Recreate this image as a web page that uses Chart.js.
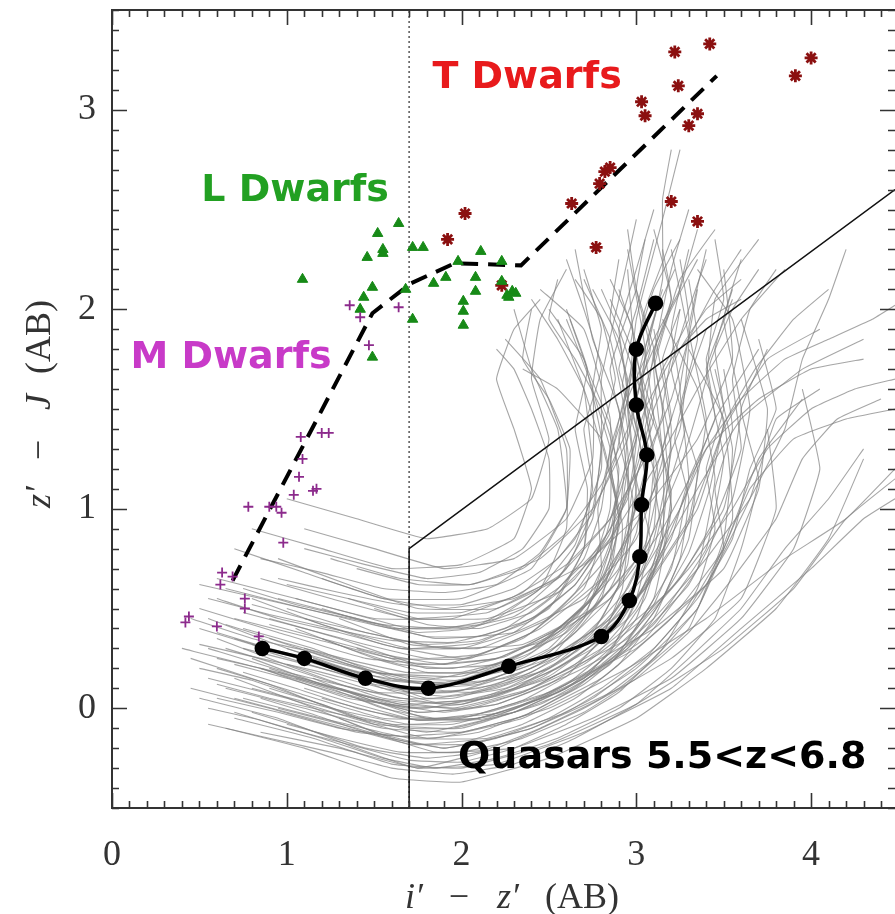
<!DOCTYPE html>
<html>
<head>
<meta charset="utf-8">
<script src="https://cdn.jsdelivr.net/npm/chart.js@4.4.0/dist/chart.umd.min.js"></script>
<style>
  body { margin: 0; background: #fff; }
</style>
</head>
<body>
<canvas id="ccd" width="895" height="914"></canvas>
<script>
const xTickValues = [0, 1, 2, 3, 4];
const yTickValues = [0, 1, 2, 3];

// mean colour track of the quasars
const meanTrackX = [0.86, 1.10, 1.45, 1.81, 2.27, 2.80, 2.96, 3.02, 3.03, 3.06, 3.00, 3.00, 3.11];
const meanTrackY = [0.30, 0.25, 0.15, 0.10, 0.21, 0.36, 0.54, 0.76, 1.02, 1.27, 1.52, 1.80, 2.03];

// dashed M-L-T sequence
const dwarfSeqX = [0.69, 1.49, 1.71, 1.96, 2.34, 3.46];
const dwarfSeqY = [0.64, 1.98, 2.13, 2.23, 2.22, 3.17];

// selection cut
const cutX = [1.7, 1.7, 4.48];
const cutY = [-0.5, 0.8, 2.6];
const dotX = [1.7, 1.7];
const dotY = [-0.5, 3.5];

const mDwarfX = [1.36, 1.42, 1.64, 1.47, 1.08, 1.20, 1.24, 1.09, 1.07, 1.04, 1.15, 1.17, 0.78, 0.90, 0.94, 0.97, 0.98, 0.63, 0.69, 0.62, 0.76, 0.76, 0.44, 0.42, 0.60, 0.84];
const mDwarfY = [2.02, 1.96, 2.01, 1.82, 1.36, 1.38, 1.38, 1.25, 1.16, 1.07, 1.09, 1.10, 1.01, 1.01, 1.01, 0.98, 0.83, 0.68, 0.66, 0.62, 0.55, 0.50, 0.46, 0.43, 0.41, 0.36];

const lDwarfX = [1.09, 1.64, 1.52, 1.55, 1.55, 1.46, 1.49, 1.44, 1.42, 1.49, 1.72, 1.72, 1.78, 1.68, 1.98, 1.91, 1.84, 2.11, 2.08, 2.08, 2.01, 2.01, 2.01, 2.23, 2.23, 2.26, 2.29, 2.31, 2.27];
const lDwarfY = [2.15, 2.43, 2.38, 2.30, 2.28, 2.26, 2.11, 2.06, 2.00, 1.76, 1.95, 2.31, 2.31, 2.10, 2.24, 2.16, 2.13, 2.29, 2.16, 2.09, 2.04, 1.99, 1.92, 2.24, 2.14, 2.07, 2.09, 2.08, 2.06];

const tDwarfX = [2.02, 1.92, 2.23, 2.77, 2.63, 2.79, 2.82, 2.85, 3.03, 3.05, 3.22, 3.24, 3.30, 3.35, 3.42, 3.20, 3.35, 3.91, 4.00];
const tDwarfY = [2.48, 2.35, 2.12, 2.31, 2.53, 2.63, 2.69, 2.71, 3.04, 2.97, 3.29, 3.12, 2.92, 2.98, 3.33, 2.54, 2.44, 3.17, 3.26];

// individual quasar tracks, [i-z, z-J] pairs
const quasarTracks = [
  [[0.45,0.25],[0.9,0.12],[1.4,-0.05],[1.8,-0.12],[2.3,-0.02],[2.7,0.15],[3.0,0.45],[3.15,0.9],[3.2,1.4],[3.1,1.9]],
  [[0.55,0.45],[1.0,0.3],[1.5,0.18],[2.0,0.16],[2.4,0.3],[2.75,0.55],[2.9,0.95],[2.95,1.4],[2.85,1.85],[2.7,2.15]],
  [[0.7,0.15],[1.1,0.02],[1.5,-0.12],[1.9,-0.2],[2.4,-0.1],[2.9,0.1],[3.3,0.4],[3.5,0.85],[3.55,1.3],[3.45,1.7]],
  [[0.8,0.55],[1.2,0.42],[1.7,0.3],[2.1,0.33],[2.5,0.5],[2.7,0.8],[2.75,1.2],[2.7,1.6],[2.55,1.95]],
  [[0.6,0.35],[1.05,0.2],[1.55,0.05],[2.0,0.02],[2.5,0.15],[2.95,0.35],[3.2,0.7],[3.3,1.15],[3.25,1.6],[3.35,2.1]],
  [[0.95,0.75],[1.35,0.62],[1.75,0.5],[2.2,0.5],[2.55,0.65],[2.75,0.95],[2.8,1.35],[2.7,1.75],[2.5,2.0]],
  [[0.5,0.05],[0.95,-0.05],[1.4,-0.2],[1.75,-0.3],[2.2,-0.2],[2.7,0.0],[3.2,0.25],[3.6,0.55],[3.8,1.0],[3.75,1.4]],
  [[0.75,0.4],[1.15,0.3],[1.6,0.15],[2.05,0.12],[2.5,0.25],[2.85,0.45],[3.05,0.8],[3.1,1.25],[3.0,1.7],[2.95,2.2]],
  [[1.0,0.3],[1.4,0.18],[1.8,0.05],[2.25,0.1],[2.65,0.28],[3.0,0.55],[3.3,0.95],[3.4,1.45],[3.3,1.9],[3.4,2.3]],
  [[0.65,0.6],[1.1,0.5],[1.6,0.4],[2.1,0.42],[2.45,0.6],[2.6,0.9],[2.6,1.3],[2.45,1.65],[2.25,1.85]],
  [[0.85,0.2],[1.3,0.08],[1.75,-0.02],[2.2,0.02],[2.65,0.18],[3.1,0.4],[3.5,0.7],[3.7,1.1],[3.75,1.5],[3.6,1.95]],
  [[1.2,0.65],[1.55,0.55],[1.9,0.5],[2.3,0.55],[2.7,0.72],[3.05,1.0],[3.35,1.35],[3.55,1.75],[3.5,2.2]],
  [[0.55,0.15],[1.0,0.05],[1.5,-0.08],[1.95,-0.1],[2.45,0.02],[2.85,0.22],[3.1,0.55],[3.2,1.0],[3.15,1.5],[3.25,2.0]],
  [[0.9,0.45],[1.3,0.35],[1.75,0.22],[2.2,0.25],[2.6,0.42],[2.9,0.7],[3.0,1.1],[2.95,1.55],[3.05,2.0],[3.2,2.35]],
  [[0.4,0.3],[0.85,0.2],[1.35,0.05],[1.8,0.0],[2.3,0.1],[2.75,0.3],[3.05,0.6],[3.25,1.0],[3.45,1.45],[3.7,1.8]],
  [[1.1,0.9],[1.5,0.8],[1.9,0.7],[2.3,0.75],[2.6,0.95],[2.75,1.25],[2.75,1.6],[2.6,1.95]],
  [[0.7,-0.05],[1.15,-0.15],[1.6,-0.28],[2.0,-0.3],[2.5,-0.18],[3.0,0.02],[3.5,0.3],[3.9,0.6],[4.2,0.95],[4.48,1.15]],
  [[0.8,0.25],[1.2,0.12],[1.65,0.02],[2.1,0.05],[2.55,0.2],[2.95,0.45],[3.15,0.85],[3.15,1.3],[3.0,1.75],[2.85,2.05]],
  [[0.95,0.55],[1.4,0.45],[1.85,0.35],[2.3,0.38],[2.7,0.55],[3.0,0.85],[3.15,1.25],[3.1,1.7],[3.25,2.15],[3.45,2.4]],
  [[0.6,0.2],[1.05,0.08],[1.55,-0.05],[2.0,-0.05],[2.5,0.08],[3.0,0.3],[3.4,0.62],[3.65,1.05],[3.8,1.45],[4.05,1.6]],
  [[1.3,0.45],[1.7,0.32],[2.1,0.3],[2.5,0.45],[2.8,0.72],[2.95,1.1],[2.9,1.5],[2.75,1.85],[2.65,2.3]],
  [[0.75,0.05],[1.2,-0.05],[1.7,-0.15],[2.15,-0.15],[2.6,-0.02],[3.0,0.2],[3.35,0.5],[3.55,0.95],[3.5,1.45],[3.3,1.8]],
  [[0.5,0.5],[0.95,0.38],[1.45,0.25],[1.9,0.22],[2.35,0.35],[2.7,0.6],[2.85,1.0],[2.85,1.45],[2.7,1.9],[2.45,2.1]],
  [[1.05,0.15],[1.5,0.05],[1.95,0.0],[2.4,0.1],[2.8,0.3],[3.2,0.6],[3.5,1.0],[3.6,1.5],[3.5,1.95],[3.6,2.25]],
  [[0.85,0.65],[1.25,0.55],[1.7,0.45],[2.15,0.48],[2.55,0.66],[2.85,0.95],[3.0,1.35],[3.05,1.8],[2.95,2.3]],
  [[0.65,-0.1],[1.1,-0.2],[1.6,-0.35],[2.0,-0.37],[2.5,-0.25],[3.0,-0.05],[3.4,0.2],[3.8,0.5],[4.1,0.85],[4.3,1.25]],
  [[0.9,0.35],[1.35,0.22],[1.8,0.12],[2.25,0.15],[2.7,0.32],[3.05,0.6],[3.35,1.0],[3.5,1.4],[3.75,1.75],[4.05,1.9]],
  [[0.7,0.8],[1.1,0.68],[1.55,0.55],[2.0,0.55],[2.4,0.7],[2.6,1.0],[2.55,1.4],[2.4,1.7],[2.3,2.0]],
  [[1.15,0.25],[1.6,0.12],[2.05,0.08],[2.5,0.2],[2.9,0.45],[3.1,0.85],[3.2,1.3],[3.1,1.75],[3.2,2.2],[3.3,2.5]],
  [[0.45,0.1],[0.9,0.0],[1.4,-0.12],[1.85,-0.15],[2.35,-0.05],[2.8,0.15],[3.2,0.45],[3.5,0.8],[3.7,1.25],[3.95,1.55]],
  [[1.0,0.5],[1.45,0.38],[1.9,0.3],[2.35,0.32],[2.75,0.5],[3.05,0.8],[3.25,1.2],[3.4,1.65],[3.45,2.05],[3.7,2.35]],
  [[0.8,0.1],[1.25,0.0],[1.7,-0.08],[2.15,-0.05],[2.6,0.1],[3.05,0.35],[3.35,0.7],[3.45,1.15],[3.35,1.6],[3.15,1.95]],
  [[1.25,0.75],[1.65,0.65],[2.05,0.62],[2.45,0.75],[2.75,1.0],[2.95,1.35],[3.05,1.75],[3.15,2.15],[3.15,2.55],[3.2,2.8]],
  [[0.55,0.3],[1.0,0.18],[1.5,0.08],[1.95,0.08],[2.4,0.2],[2.8,0.42],[3.1,0.72],[3.35,1.1],[3.6,1.45],[3.95,1.7],[4.3,1.85]],
  [[1.4,0.3],[1.8,0.2],[2.2,0.22],[2.6,0.38],[2.9,0.65],[3.0,1.05],[2.95,1.5],[3.0,1.95],[3.15,2.45],[3.25,2.8]],
  [[0.95,0.0],[1.4,-0.1],[1.85,-0.22],[2.3,-0.2],[2.75,-0.05],[3.2,0.15],[3.6,0.45],[3.9,0.8],[4.05,1.2],[3.95,1.6]],
  [[0.6,0.65],[1.05,0.55],[1.5,0.45],[1.95,0.45],[2.35,0.58],[2.65,0.85],[2.8,1.2],[2.8,1.65],[2.9,2.05],[3.0,2.45]],
  [[1.1,0.45],[1.55,0.32],[2.0,0.25],[2.45,0.33],[2.85,0.55],[3.15,0.9],[3.4,1.3],[3.7,1.55],[4.0,1.7],[4.3,1.75]],
  [[0.75,0.3],[1.2,0.2],[1.65,0.1],[2.1,0.12],[2.5,0.28],[2.8,0.55],[2.9,0.95],[2.8,1.35],[2.55,1.6],[2.35,1.7]],
  [[0.85,-0.12],[1.3,-0.2],[1.75,-0.3],[2.2,-0.28],[2.7,-0.12],[3.2,0.1],[3.6,0.4],[4.0,0.7],[4.3,0.95],[4.48,1.05]],
  [[1.2,0.05],[1.65,-0.05],[2.1,-0.05],[2.55,0.08],[2.95,0.3],[3.3,0.62],[3.55,1.05],[3.65,1.5],[3.55,1.95],[3.35,2.2]],
  [[0.5,0.4],[0.95,0.28],[1.45,0.15],[1.9,0.12],[2.35,0.25],[2.75,0.5],[2.95,0.85],[2.95,1.3],[2.85,1.7],[3.0,2.1]],
  [[1.35,0.55],[1.75,0.45],[2.15,0.45],[2.55,0.58],[2.85,0.85],[3.1,1.2],[3.35,1.6],[3.6,1.95],[3.85,2.2]],
  [[0.7,0.45],[1.15,0.35],[1.6,0.25],[2.05,0.25],[2.45,0.4],[2.8,0.65],[3.05,1.0],[3.25,1.4],[3.3,1.85],[3.2,2.3]],
  [[0.9,0.2],[1.35,0.08],[1.8,-0.05],[2.25,-0.02],[2.7,0.15],[3.1,0.42],[3.4,0.8],[3.5,1.25],[3.4,1.7],[3.55,2.05]],
  [[0.8,0.9],[1.2,0.8],[1.6,0.7],[2.0,0.72],[2.3,0.85],[2.4,1.1],[2.3,1.4],[2.2,1.65],[2.3,1.9],[2.45,2.05]],
  [[1.0,1.05],[1.4,0.95],[1.8,0.85],[2.15,0.9],[2.4,1.05],[2.5,1.35],[2.4,1.65],[2.45,1.95],[2.6,2.2]],
  [[0.65,0.1],[1.1,0.0],[1.55,-0.1],[2.0,-0.12],[2.5,0.0],[2.95,0.2],[3.4,0.45],[3.85,0.75],[4.2,0.95],[4.48,1.2]],
  [[0.5,0.2],[0.8,0.14],[1.1,0.05],[1.4,-0.04],[1.7,-0.1],[2.0,-0.1],[2.3,-0.02],[2.6,0.1],[2.85,0.28],[3.0,0.55],[3.08,0.85],[3.0,1.15],[3.1,1.45],[3.05,1.8],[3.15,2.1]],
  [[0.7,0.35],[1.0,0.27],[1.3,0.2],[1.6,0.1],[1.9,0.08],[2.2,0.12],[2.5,0.25],[2.7,0.45],[2.8,0.7],[2.78,1.0],[2.85,1.3],[2.75,1.6],[2.8,1.9],[2.7,2.2]],
  [[0.9,0.1],[1.2,0.02],[1.5,-0.08],[1.8,-0.15],[2.1,-0.12],[2.4,-0.02],[2.7,0.12],[2.95,0.3],[3.15,0.55],[3.3,0.85],[3.35,1.2],[3.25,1.5],[3.35,1.85],[3.3,2.15]],
  [[0.6,0.55],[0.95,0.45],[1.3,0.38],[1.65,0.3],[2.0,0.3],[2.3,0.38],[2.55,0.55],[2.7,0.8],[2.72,1.1],[2.65,1.4],[2.72,1.7],[2.6,2.0]],
  [[1.05,0.4],[1.35,0.3],[1.65,0.22],[1.95,0.2],[2.25,0.26],[2.55,0.4],[2.8,0.6],[2.95,0.88],[3.05,1.15],[3.0,1.45],[3.1,1.75],[3.2,2.05],[3.1,2.4]],
  [[0.55,0.0],[0.85,-0.06],[1.2,-0.15],[1.55,-0.25],[1.85,-0.3],[2.2,-0.25],[2.55,-0.15],[2.9,0.0],[3.2,0.2],[3.45,0.45],[3.6,0.8],[3.7,1.15],[3.6,1.5],[3.75,1.8]],
  [[0.75,0.6],[1.05,0.52],[1.4,0.45],[1.75,0.38],[2.05,0.4],[2.35,0.5],[2.6,0.7],[2.75,1.0],[2.8,1.3],[2.7,1.6],[2.55,1.85],[2.4,2.05]],
  [[1.15,0.15],[1.45,0.05],[1.75,-0.02],[2.05,0.0],[2.35,0.08],[2.65,0.22],[2.9,0.42],[3.1,0.7],[3.2,1.0],[3.15,1.3],[3.25,1.6],[3.2,1.9],[3.3,2.3]],
  [[0.65,0.3],[0.95,0.22],[1.3,0.12],[1.65,0.05],[1.95,0.05],[2.25,0.12],[2.55,0.25],[2.8,0.45],[2.95,0.72],[2.98,1.05],[2.9,1.35],[2.95,1.65],[2.85,1.95],[2.9,2.25]],
  [[0.85,0.75],[1.2,0.68],[1.55,0.6],[1.9,0.58],[2.2,0.62],[2.45,0.78],[2.6,1.0],[2.62,1.3],[2.5,1.55],[2.35,1.75],[2.4,2.0]],
  [[1.3,-0.05],[1.6,-0.15],[1.9,-0.2],[2.2,-0.15],[2.5,-0.05],[2.8,0.1],[3.1,0.3],[3.35,0.55],[3.55,0.85],[3.65,1.2],[3.8,1.5],[3.7,1.85]],
  [[0.45,0.45],[0.8,0.35],[1.15,0.28],[1.5,0.18],[1.85,0.15],[2.15,0.2],[2.45,0.32],[2.7,0.52],[2.85,0.8],[2.9,1.1],[3.0,1.4],[2.9,1.7],[3.0,2.0],[3.1,2.35]],
  [[1.0,0.62],[1.35,0.55],[1.7,0.48],[2.0,0.48],[2.3,0.56],[2.6,0.72],[2.85,0.95],[3.05,1.25],[3.2,1.55],[3.3,1.85],[3.45,2.1],[3.6,2.3]],
  [[0.8,-0.02],[1.1,-0.1],[1.45,-0.2],[1.8,-0.25],[2.1,-0.22],[2.45,-0.1],[2.8,0.05],[3.1,0.25],[3.35,0.5],[3.5,0.8],[3.45,1.1],[3.55,1.4],[3.5,1.7]],
  [[0.6,0.12],[0.9,0.05],[1.25,-0.02],[1.6,-0.08],[1.95,-0.08],[2.3,0.0],[2.6,0.12],[2.85,0.3],[3.05,0.55],[3.15,0.85],[3.1,1.15],[3.2,1.45],[3.15,1.75],[3.25,2.0]],
  [[1.2,0.35],[1.5,0.25],[1.8,0.18],[2.1,0.18],[2.4,0.28],[2.65,0.45],[2.85,0.68],[2.9,0.95],[2.85,1.25],[2.95,1.55],[2.9,1.85],[2.75,2.1]],
  [[0.7,0.22],[1.0,0.15],[1.35,0.06],[1.7,0.0],[2.0,0.02],[2.3,0.1],[2.6,0.25],[2.85,0.45],[3.05,0.7],[3.25,1.0],[3.4,1.3],[3.6,1.55],[3.85,1.75],[4.1,1.85],[4.35,1.95],[4.48,2.02]],
  [[1.4,0.7],[1.75,0.62],[2.05,0.62],[2.35,0.7],[2.6,0.88],[2.8,1.12],[2.95,1.4],[3.05,1.7],[3.2,2.0],[3.35,2.25]],
  [[0.9,0.28],[1.2,0.2],[1.5,0.12],[1.8,0.08],[2.1,0.1],[2.4,0.18],[2.7,0.35],[2.95,0.6],[3.1,0.9],[3.12,1.2],[3.05,1.5],[3.1,1.8],[3.0,2.1],[2.95,2.4]],
  [[0.55,-0.08],[0.9,-0.15],[1.25,-0.22],[1.6,-0.3],[1.95,-0.33],[2.3,-0.28],[2.65,-0.15],[3.0,0.02],[3.3,0.25],[3.6,0.5],[3.85,0.8],[4.1,1.05],[4.3,1.3]],
  [[1.1,0.8],[1.45,0.72],[1.8,0.65],[2.1,0.68],[2.35,0.8],[2.5,1.0],[2.5,1.25],[2.4,1.5],[2.3,1.7],[2.2,1.8]],
  [[0.75,0.48],[1.1,0.4],[1.45,0.32],[1.8,0.25],[2.1,0.27],[2.4,0.38],[2.65,0.58],[2.85,0.85],[2.98,1.15],[3.05,1.5],[3.0,1.8],[3.1,2.1],[3.25,2.35]],
  [[1.0,-0.08],[1.3,-0.15],[1.65,-0.22],[2.0,-0.22],[2.35,-0.15],[2.7,-0.02],[3.0,0.15],[3.3,0.38],[3.55,0.65],[3.8,0.95],[3.95,1.25],[4.15,1.45],[4.4,1.55]],
  [[0.5,0.62],[0.85,0.55],[1.2,0.48],[1.55,0.42],[1.9,0.4],[2.2,0.45],[2.45,0.6],[2.65,0.82],[2.75,1.1],[2.7,1.4],[2.8,1.7],[2.7,2.0],[2.6,2.25]],
  [[1.25,0.2],[1.55,0.1],[1.85,0.03],[2.15,0.05],[2.45,0.15],[2.75,0.32],[3.0,0.55],[3.2,0.85],[3.3,1.15],[3.45,1.45],[3.4,1.75],[3.5,2.05],[3.45,2.35]],
  [[0.65,0.42],[0.98,0.33],[1.32,0.25],[1.68,0.18],[2.0,0.18],[2.3,0.25],[2.58,0.4],[2.8,0.62],[2.9,0.9],[2.95,1.2],[3.05,1.5],[3.2,1.75],[3.4,1.95],[3.6,2.05]],
  [[0.95,0.18],[1.25,0.1],[1.55,0.0],[1.85,-0.05],[2.15,-0.02],[2.45,0.06],[2.75,0.2],[3.0,0.4],[3.25,0.65],[3.45,0.95],[3.6,1.3],[3.55,1.65],[3.65,2.0],[3.8,2.2]],
  [[1.5,0.5],[1.8,0.42],[2.1,0.4],[2.4,0.48],[2.65,0.65],[2.85,0.9],[3.0,1.2],[3.1,1.5],[3.25,1.8],[3.4,2.0],[3.6,2.15]],
  [[0.8,0.52],[1.1,0.45],[1.45,0.38],[1.8,0.32],[2.1,0.34],[2.4,0.44],[2.65,0.62],[2.85,0.88],[2.9,1.2],[2.8,1.5],[2.65,1.75],[2.5,1.95],[2.55,2.15]],
  [[0.7,0.05],[1.0,-0.02],[1.35,-0.1],[1.7,-0.18],[2.05,-0.18],[2.4,-0.1],[2.75,0.05],[3.05,0.25],[3.3,0.5],[3.5,0.8],[3.65,1.1],[3.9,1.35],[4.2,1.45],[4.48,1.5]],
  [[1.1,0.1],[1.4,0.02],[1.75,-0.06],[2.1,-0.05],[2.45,0.05],[2.8,0.22],[3.1,0.45],[3.4,0.75],[3.65,1.05],[3.85,1.4],[3.95,1.75],[4.1,2.05],[4.2,2.3]],
  [[0.6,0.25],[0.95,0.18],[1.3,0.1],[1.65,0.02],[2.0,0.0],[2.35,0.08],[2.7,0.22],[3.0,0.42],[3.3,0.7],[3.55,1.0],[3.75,1.3],[4.0,1.5],[4.25,1.6],[4.48,1.65]],
  [[0.75,0.18],[1.05,0.1],[1.4,0.0],[1.75,-0.06],[2.05,-0.04],[2.35,0.04],[2.6,0.16],[2.8,0.35],[2.92,0.6],[2.96,0.9],[3.05,1.2],[2.98,1.5],[3.08,1.8],[3.0,2.1],[3.05,2.35]],
  [[1.0,0.22],[1.3,0.14],[1.6,0.06],[1.9,0.02],[2.2,0.06],[2.5,0.16],[2.75,0.32],[2.95,0.55],[3.1,0.8],[3.18,1.1],[3.28,1.4],[3.2,1.7],[3.3,2.0],[3.4,2.25]],
  [[0.6,0.38],[0.9,0.3],[1.25,0.22],[1.6,0.14],[1.9,0.13],[2.2,0.18],[2.5,0.3],[2.72,0.5],[2.85,0.75],[2.88,1.05],[2.8,1.35],[2.88,1.65],[2.8,1.95],[2.65,2.15]],
  [[1.1,0.3],[1.4,0.22],[1.7,0.15],[2.0,0.14],[2.3,0.2],[2.6,0.34],[2.85,0.55],[3.05,0.82],[3.12,1.1],[3.05,1.4],[3.15,1.7],[3.3,1.95],[3.25,2.25]],
  [[0.85,0.05],[1.15,-0.03],[1.45,-0.12],[1.75,-0.18],[2.05,-0.16],[2.35,-0.08],[2.65,0.05],[2.9,0.22],[3.1,0.45],[3.25,0.75],[3.3,1.05],[3.22,1.35],[3.3,1.65],[3.4,1.9]],
  [[0.55,0.55],[0.9,0.47],[1.25,0.4],[1.6,0.34],[1.95,0.33],[2.25,0.4],[2.5,0.55],[2.7,0.75],[2.8,1.0],[2.85,1.3],[2.95,1.6],[2.9,1.9],[3.0,2.2],[3.1,2.5]],
  [[1.3,0.1],[1.6,0.02],[1.9,-0.02],[2.2,0.02],[2.5,0.12],[2.78,0.28],[3.0,0.5],[3.15,0.78],[3.2,1.08],[3.12,1.38],[3.0,1.65],[2.9,1.9],[2.8,2.1]],
  [[0.9,0.42],[1.2,0.35],[1.55,0.27],[1.9,0.22],[2.2,0.25],[2.5,0.36],[2.75,0.55],[2.92,0.8],[2.98,1.1],[3.08,1.4],[3.02,1.7],[3.12,2.0],[3.22,2.2]],
  [[0.7,-0.02],[1.0,-0.1],[1.35,-0.18],[1.7,-0.26],[2.0,-0.27],[2.3,-0.2],[2.6,-0.08],[2.9,0.08],[3.15,0.3],[3.35,0.6],[3.45,0.9],[3.4,1.2],[3.5,1.5],[3.45,1.8],[3.55,2.1]],
  [[1.05,0.55],[1.35,0.48],[1.7,0.4],[2.0,0.4],[2.3,0.46],[2.55,0.6],[2.78,0.8],[2.95,1.05],[3.0,1.35],[2.92,1.62],[2.98,1.9],[2.85,2.15]],
  [[0.6,0.05],[0.95,-0.02],[1.3,-0.1],[1.65,-0.14],[2.0,-0.12],[2.35,-0.04],[2.65,0.1],[2.9,0.28],[3.1,0.52],[3.25,0.82],[3.38,1.12],[3.5,1.42],[3.42,1.72],[3.55,2.0],[3.7,2.2]],
  [[1.2,0.5],[1.5,0.42],[1.8,0.36],[2.1,0.36],[2.4,0.45],[2.65,0.62],[2.82,0.85],[2.9,1.12],[2.85,1.42],[2.72,1.7],[2.62,1.95]],
  [[0.8,0.32],[1.1,0.25],[1.45,0.17],[1.8,0.12],[2.1,0.13],[2.4,0.22],[2.65,0.38],[2.85,0.6],[3.0,0.88],[3.05,1.18],[3.15,1.48],[3.1,1.78],[3.2,2.05],[3.15,2.3]],
  [[1.4,0.05],[1.7,-0.04],[2.0,-0.06],[2.3,-0.02],[2.6,0.08],[2.88,0.25],[3.1,0.48],[3.3,0.78],[3.42,1.1],[3.5,1.42],[3.68,1.7],[3.9,1.95],[4.1,2.1]],
  [[0.5,0.32],[0.85,0.25],[1.2,0.18],[1.55,0.1],[1.9,0.06],[2.2,0.1],[2.5,0.2],[2.75,0.38],[2.9,0.62],[2.92,0.92],[2.85,1.22],[2.92,1.52],[3.0,1.82],[2.9,2.1]],
  [[0.95,0.65],[1.3,0.58],[1.65,0.52],[2.0,0.52],[2.3,0.6],[2.55,0.75],[2.75,0.98],[2.88,1.25],[2.95,1.55],[3.1,1.85],[3.25,2.1],[3.35,2.4]]
];

// text labels placed in data coordinates
const labelTexts = ['T Dwarfs', 'L Dwarfs', 'M Dwarfs', 'Quasars 5.5<z<6.8'];
const labelX = [2.375, 1.048, 0.681, 3.148];
const labelY = [3.16, 2.59, 1.757, -0.249];
const labelColors = ['#e81a1c', '#22a022', '#c83ac8', '#000000'];

const toPoints = (xs, ys) => xs.map((x, i) => ({ x: x, y: ys[i] }));

const datasets = [];

datasets.push({ data: toPoints(mDwarfX, mDwarfY), pointStyle: 'cross', pointRadius: 5, borderColor: '#8c2a8c', borderWidth: 1.8, order: 0 });
datasets.push({ data: toPoints(lDwarfX, lDwarfY), pointStyle: 'triangle', pointRadius: 6, backgroundColor: '#178a17', borderColor: '#178a17', borderWidth: 1, order: 0 });
datasets.push({ data: toPoints(tDwarfX, tDwarfY), pointStyle: 'star', pointRadius: 6.5, borderColor: '#8b1010', borderWidth: 2.8, order: 0 });

datasets.push({ data: toPoints(dwarfSeqX, dwarfSeqY), showLine: true, pointRadius: 0, borderColor: '#000', borderWidth: 4, borderDash: [17, 10], order: 1 });
datasets.push({ data: toPoints(meanTrackX, meanTrackY), showLine: true, pointRadius: 6, pointBackgroundColor: '#000', borderColor: '#000', borderWidth: 3.5, tension: 0.35, order: 1 });
datasets.push({ data: toPoints(cutX, cutY), showLine: true, pointRadius: 0, borderColor: '#111', borderWidth: 1.5, order: 2 });
datasets.push({ data: toPoints(dotX, dotY), showLine: true, pointRadius: 0, borderColor: '#555', borderWidth: 1.5, borderDash: [2, 3], order: 3 });

quasarTracks.forEach(track => {
  datasets.push({
    data: track.map(p => ({ x: p[0], y: p[1] })),
    showLine: true,
    pointRadius: 0,
    borderColor: 'rgba(128,128,128,0.7)',
    borderWidth: 1.1,
    tension: 0.1,
    order: 5
  });
});

// frame with inward major/minor ticks on all four sides
const frameTicks = {
  id: 'frameTicks',
  afterDatasetsDraw(chart) {
    const { ctx, chartArea: a, scales: { x, y } } = chart;
    ctx.save();
    ctx.strokeStyle = '#333';
    ctx.lineWidth = 2;
    ctx.strokeRect(a.left, a.top, a.right - a.left + 2, a.bottom - a.top);
    ctx.lineWidth = 1.6;
    ctx.beginPath();
    for (let i = 0; i <= 45; i++) {
      const v = i / 10;
      if (v > x.max) break;
      const len = i % 10 === 0 ? 15 : 7;
      const px = Math.round(x.getPixelForValue(v)) + 0.5;
      ctx.moveTo(px, a.bottom); ctx.lineTo(px, a.bottom - len);
      ctx.moveTo(px, a.top); ctx.lineTo(px, a.top + len);
    }
    for (let i = -5; i <= 35; i++) {
      const v = i / 10;
      const len = i % 10 === 0 ? 15 : 7;
      const py = Math.round(y.getPixelForValue(v)) + 0.5;
      ctx.moveTo(a.left, py); ctx.lineTo(a.left + len, py);
      ctx.moveTo(a.right, py); ctx.lineTo(a.right - len, py);
    }
    ctx.stroke();

    // region labels
    ctx.font = 'bold 38px "DejaVu Sans", Verdana, sans-serif';
    ctx.textAlign = 'center';
    ctx.textBaseline = 'middle';
    labelTexts.forEach((t, i) => {
      ctx.fillStyle = labelColors[i];
      ctx.fillText(t, x.getPixelForValue(labelX[i]), y.getPixelForValue(labelY[i]));
    });
    ctx.restore();
  },
  afterDraw(chart) {
    const { ctx } = chart;
    const serif = '"Liberation Serif", "DejaVu Serif", serif';
    const parts = (pieces) => {
      pieces.forEach(p => {
        ctx.font = (p.italic ? 'italic ' : '') + '36px ' + serif;
        ctx.fillText(p.t, p.c, 0);
      });
    };
    ctx.save();
    ctx.fillStyle = '#333';
    ctx.textAlign = 'center';
    ctx.textBaseline = 'alphabetic';
    // x title: i' - z' (AB)
    ctx.translate(0, 908);
    parts([
      { t: 'i\u2032', italic: true, c: 414 },
      { t: '\u2212', c: 459 },
      { t: 'z\u2032', italic: true, c: 508 },
      { t: '(AB)', c: 582 }
    ]);
    ctx.restore();
    ctx.save();
    ctx.fillStyle = '#333';
    ctx.textAlign = 'center';
    ctx.translate(50, 0);
    ctx.rotate(-Math.PI / 2);
    // y title: z' - J (AB), positions measured along the rotated baseline
    parts([
      { t: 'z\u2032', italic: true, c: -497 },
      { t: '\u2212', c: -450 },
      { t: 'J', italic: true, c: -402 },
      { t: '(AB)', c: -337 }
    ]);
    ctx.restore();
  }
};

new Chart(document.getElementById('ccd'), {
  type: 'scatter',
  data: { datasets: datasets },
  options: {
    responsive: false,
    animation: false,
    layout: { autoPadding: false, padding: { top: 10, right: 0, left: 0, bottom: 0 } },
    plugins: { legend: { display: false }, tooltip: { enabled: false } },
    scales: {
      x: {
        type: 'linear',
        min: 0,
        max: 4.48,
        afterBuildTicks: s => { s.ticks = xTickValues.map(v => ({ value: v })); },
        afterFit: s => { s.height = 106; s.paddingLeft = 0; s.paddingRight = 0; },
        grid: { display: false },
        border: { display: false },
        ticks: { padding: 18, color: '#333', font: { family: '"Liberation Serif", serif', size: 36 } }
      },
      y: {
        type: 'linear',
        min: -0.5,
        max: 3.5,
        afterBuildTicks: s => { s.ticks = yTickValues.map(v => ({ value: v })); },
        afterFit: s => { s.width = 112; s.paddingTop = 0; s.paddingBottom = 0; },
        grid: { display: false },
        border: { display: false },
        ticks: { padding: 8, color: '#333', font: { family: '"Liberation Serif", serif', size: 36 } }
      }
    }
  },
  plugins: [frameTicks]
});
</script>
</body>
</html>
